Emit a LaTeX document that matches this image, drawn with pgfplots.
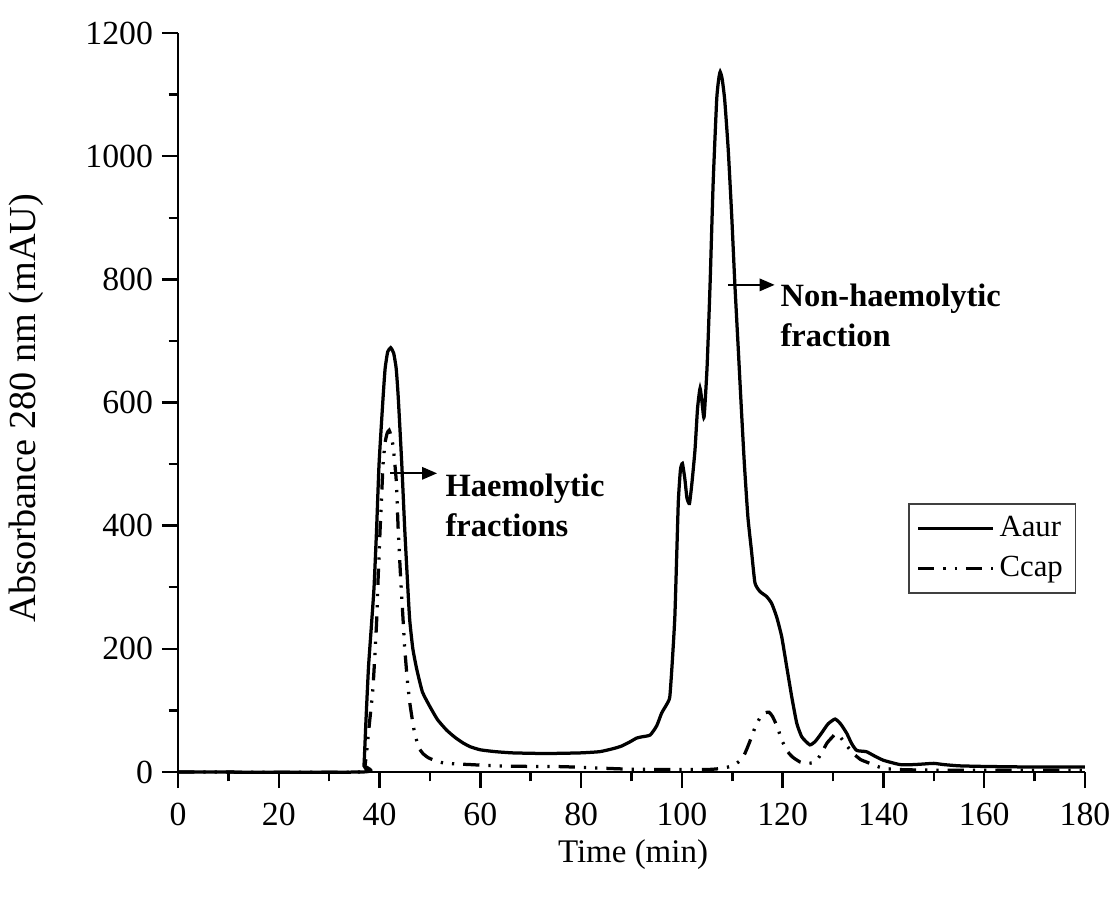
\documentclass[border=0pt]{standalone}
\usepackage{pgfplots}
\pgfplotsset{compat=1.18}
\usepackage{fontspec}
\setmainfont{Liberation Serif}
\usetikzlibrary{arrows.meta}

\pgfplotstableread{
x y
0 0
36.5 0
36.9 10
37.3 84
37.8 170
38.4 240
38.9 300
39.4 393
39.9 501
40.7 609
41.1 655
41.6 682
42.2 689
42.8 680
43.3 655
43.7 609
44.4 501
45.0 393
45.7 285
46.0 245
46.6 200
47.4 166
48.5 130
50.0 106
51.5 85
53.3 68
55.0 56
56.6 47
58.0 41
60.0 36
63.0 33
66.5 31
73.0 30
79.8 31
83.7 33
86.4 38
88.0 42
89.7 49
91.0 55
92.0 57
93.7 60
95.0 75
96.0 96
97.0 110
97.6 122
98.1 180
98.6 252
99.0 360
99.3 441
99.7 490
100.1 501
100.6 475
101.0 445
101.5 436
102.0 470
102.6 523
103.1 590
103.6 623
104.0 600
104.4 576
105.0 658
105.6 794
106.2 956
106.9 1091
107.3 1125
107.6 1137
108.0 1125
108.5 1091
109.2 1010
109.9 901
110.5 794
111.2 685
111.8 590
112.4 500
113.1 414
113.8 360
114.5 307
115.5 293
116.8 285
117.8 274
118.8 252
119.8 220
120.8 171
121.8 122
122.8 79
123.8 57
125.4 44
126.5 50
127.7 63
129.0 78
130.4 86
131.5 78
132.7 63
133.7 46
134.7 35
136.6 33
138.0 27
140.0 19
143.3 12
146.0 12
148.0 13
150.0 14
152.0 12
155.0 10
160.0 9
170.0 8
180.0 8
}\aaur

\pgfplotstableread{
x y
0 0
36.8 0
37.1 10
37.4 30
38.0 80
38.7 138
39.4 242
39.7 312
40.1 393
40.4 447
40.7 501
41.1 535
41.5 550
41.9 555
42.3 545
42.7 528
43.3 474
43.7 393
44.2 312
44.7 242
45.0 200
45.5 150
46.0 112
46.8 70
47.7 41
48.6 30
49.7 23
51.5 17
53.3 14
58.0 12
63.0 10
70.0 9
76.5 8.6
88.0 5
95.0 4
105.0 4
108.0 6
110.0 10
111.5 18
112.5 30
113.5 50
114.5 72
115.5 88
116.5 96
117.3 97
118.0 90
119.0 72
119.8 52
121.0 33
122.0 24
123.5 16
124.8 14
126.0 15
126.8 19
127.8 32
128.8 47
130.0 58
130.5 62
131.5 56
132.5 45
134.0 30
135.5 20
136.7 16
138.5 10
140.0 6
143.0 4
150.0 3
180.0 3
}\ccap

\begin{document}
\begin{tikzpicture}
\begin{axis}[
    scale only axis,
    width=362.8pt,
    height=295.6pt,
    xmin=0, xmax=180,
    ymin=0, ymax=1200,
    axis lines*=left,
    axis line style={line width=1pt},
    xtick={0,20,...,180},
    ytick={0,200,...,1200},
    minor x tick num=1,
    minor y tick num=1,
    tick align=outside,
    major tick length=6.5pt,
    minor tick length=3.8pt,
    tick style={line width=1pt, black},
    ticklabel style={font=\fontsize{13.5}{16}\selectfont},
    xticklabel shift=2.5pt,
    /pgf/number format/assume math mode=true,
    /pgf/number format/1000 sep={},
    ylabel={Absorbance 280 nm (mAU)},
    ylabel style={font=\fontsize{15.3}{18}\selectfont,
        at={(axis description cs:-0.1676,0.4926)}, anchor=center, rotate=0},
    legend style={at={(axis description cs:0.805,0.364)}, anchor=north west,
        draw=black!75, line width=0.6pt, font=\fontsize{12.3}{15}\selectfont,
        inner xsep=3pt, inner ysep=3pt, row sep=2.5pt},
    legend cell align=left,
    legend image code/.code={\draw[#1] (0pt,0pt) -- (30pt,0pt);},
    clip=false,
]
\addplot[black, line width=1.3pt, smooth, tension=0.3] table[x=x, y=y] {\aaur};
\addlegendentry{Aaur}
\addplot[black, line width=1.3pt, smooth, tension=0.3,
    dash pattern=on 6.5pt off 3.6pt on 0.9pt off 3.6pt on 0.9pt off 3.6pt] table[x=x, y=y] {\ccap};
\addlegendentry{Ccap}

\node[font=\fontsize{13.2}{16}\selectfont, anchor=center]
    at (rel axis cs:0.5017,-0.1123) {Time (min)};

\draw[line width=0.7pt, -{Triangle[length=6pt, width=5pt]}] (axis cs:42.1,485) -- (axis cs:51.4,485);
\node[anchor=west, align=left, inner sep=0pt, font=\fontsize{13}{16}\selectfont\bfseries]
    at (axis cs:53,433) {Haemolytic\\fractions};
\draw[line width=0.7pt, -{Triangle[length=6pt, width=5pt]}] (axis cs:109.1,791) -- (axis cs:118.4,791);
\node[anchor=west, align=left, inner sep=0pt, font=\fontsize{13}{16}\selectfont\bfseries]
    at (axis cs:119.5,742) {Non-haemolytic\\fraction};

\coordinate (bbsw) at (rel axis cs:-0.1963,-0.1705);
\coordinate (bbne) at (rel axis cs:1.032,1.0447);
\end{axis}
\pgfresetboundingbox
\path[use as bounding box] (bbsw) rectangle (bbne);
\end{tikzpicture}
\end{document}
